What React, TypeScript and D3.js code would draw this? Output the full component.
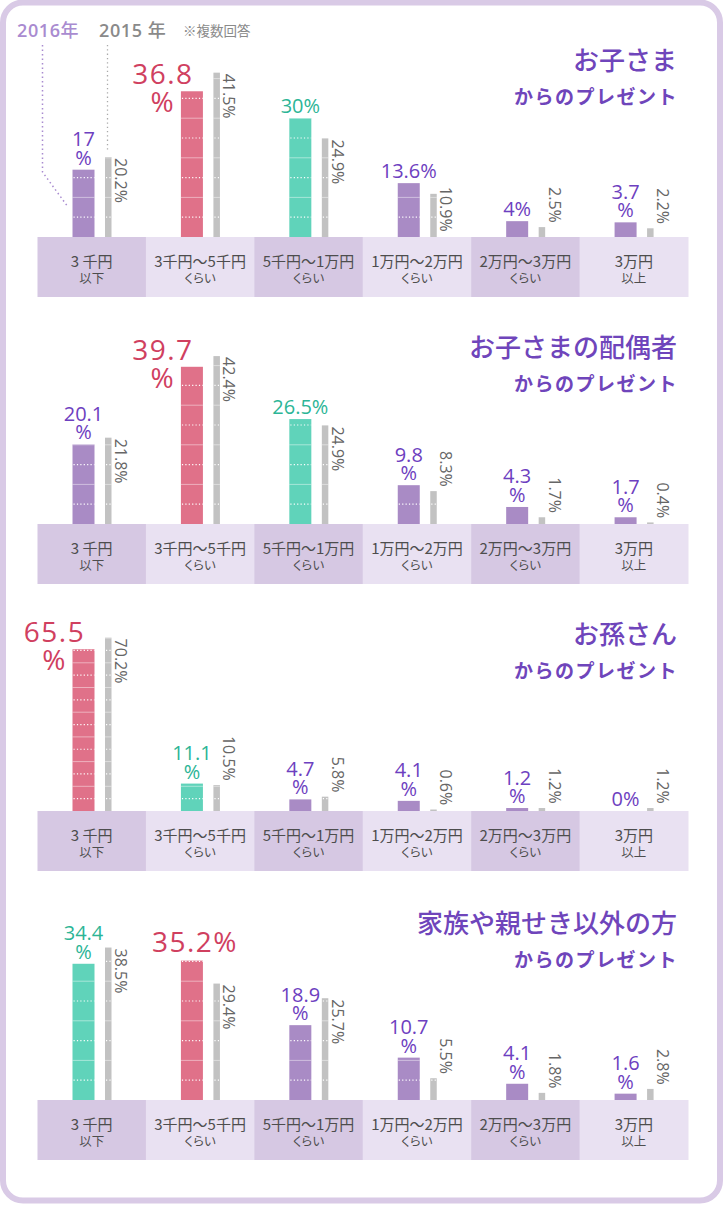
import React from "react";
import * as d3 from "d3";

const CAT_LINE1 = ["3 千円", "3千円～5千円", "5千円～1万円", "1万円～2万円", "2万円～3万円", "3万円"];
const CAT_LINE2 = ["以下", "くらい", "くらい", "くらい", "くらい", "以上"];

const TITLES = ["お子さま", "お子さまの配偶者", "お孫さん", "家族や親せき以外の方"];
const SUBTITLE = "からのプレゼント";

const Y2016_CHILD = [17, 36.8, 30, 13.6, 4, 3.7];
const Y2015_CHILD = [20.2, 41.5, 24.9, 10.9, 2.5, 2.2];
const SPLIT_CHILD = [true, true, false, false, false, true];

const Y2016_SPOUSE = [20.1, 39.7, 26.5, 9.8, 4.3, 1.7];
const Y2015_SPOUSE = [21.8, 42.4, 24.9, 8.3, 1.7, 0.4];
const SPLIT_SPOUSE = [true, true, false, true, true, true];

const Y2016_GRAND = [65.5, 11.1, 4.7, 4.1, 1.2, 0];
const Y2015_GRAND = [70.2, 10.5, 5.8, 0.6, 1.2, 1.2];
const SPLIT_GRAND = [true, true, true, true, true, false];

const Y2016_OTHER = [34.4, 35.2, 18.9, 10.7, 4.1, 1.6];
const Y2015_OTHER = [38.5, 29.4, 25.7, 5.5, 1.8, 2.8];
const SPLIT_OTHER = [true, false, true, true, true, true];

const LEGEND_YEARS = ["2016", "2015 "];
const NOTE = "※複数回答";

const PANELS = [
  { title: TITLES[0], v16: Y2016_CHILD, v15: Y2015_CHILD, split: SPLIT_CHILD },
  { title: TITLES[1], v16: Y2016_SPOUSE, v15: Y2015_SPOUSE, split: SPLIT_SPOUSE },
  { title: TITLES[2], v16: Y2016_GRAND, v15: Y2015_GRAND, split: SPLIT_GRAND },
  { title: TITLES[3], v16: Y2016_OTHER, v15: Y2015_OTHER, split: SPLIT_OTHER },
];

// layout
const W = 727;
const H = 1206;
const BASELINES = [237, 524, 811, 1100];
const PX_PER_PCT = [3.96, 3.96, 2.47, 3.96];
const BAND_H = 60;

const COL = {
  frame: "#d9cae6",
  bandDark: "#d6c8e3",
  bandLight: "#e9e1f2",
  purpleBar: "#a98bc5",
  redBar: "#e07189",
  tealBar: "#60d3ba",
  grayBar: "#c2c2c2",
  purpleText: "#6d40c0",
  redText: "#d0405f",
  tealText: "#2cb596",
  grayText: "#666666",
  title: "#6f45bb",
  catText: "#4d4d4d",
  legend16: "#a98bd0",
  legend15: "#8a8a8a",
};

const NUM_FONT = "'Open Sans', 'Liberation Sans', sans-serif";
const JP_FONT = "'Noto Sans CJK JP', sans-serif";

// approximate advance widths (em)
function textLen(s: string, size: number) {
  let w = 0;
  for (const c of s) {
    if (c === ".") w += 0.268;
    else if (c === "%") w += 0.84;
    else w += 0.572;
  }
  return w * size;
}

const xBand = d3.scaleBand<string>().domain(CAT_LINE1).range([37.5, 688]).padding(0);

function BarGrid({ x, w, y, top, maxV }: { x: number; w: number; y: d3.ScaleLinear<number, number>; top: number; maxV: number }) {
  const ticks = d3.range(5, maxV + 0.001, 5);
  return (
    <g>
      {ticks.map((t) => {
        const yy = y(t);
        if (yy < top - 0.5) return null;
        const odd = Math.round(t / 5) % 2 === 1;
        return odd ? (
          <line key={t} x1={x + 1} x2={x + w} y1={yy} y2={yy} stroke="#fff" strokeWidth={1.2} strokeDasharray="1.2 2.2" />
        ) : (
          <line key={t} x1={x} x2={x + w} y1={yy} y2={yy} stroke="#fff" strokeOpacity={0.45} strokeWidth={1} />
        );
      })}
    </g>
  );
}

function Panel({ idx }: { idx: number }) {
  const p = PANELS[idx];
  const base = BASELINES[idx];
  const y = d3.scaleLinear().domain([0, 100]).range([base, base - 100 * PX_PER_PCT[idx]]);
  const sorted = [...p.v16].sort((a, b) => b - a);
  const bw = xBand.bandwidth();
  return (
    <g>
      {/* title */}
      <text x={677} y={base - 167} textAnchor="end" fontFamily={JP_FONT} fontSize={26} fontWeight={500} fill={COL.title}>
        {p.title}
      </text>
      <text x={678} y={base - 133} textAnchor="end" fontFamily={JP_FONT} fontSize={19} fontWeight={700} fill={COL.title} letterSpacing={1.5}>
        {SUBTITLE}
      </text>
      {/* category band */}
      {CAT_LINE1.map((c, i) => {
        const x0 = xBand(c) as number;
        return (
          <g key={c}>
            <rect x={x0} y={base} width={bw + 0.5} height={BAND_H} fill={i % 2 === 0 ? COL.bandDark : COL.bandLight} />
            <text x={x0 + bw / 2} y={base + 30} textAnchor="middle" fontFamily={JP_FONT} fontSize={15} fill={COL.catText}>
              {c}
            </text>
            <text x={x0 + bw / 2} y={base + 46} textAnchor="middle" fontFamily={JP_FONT} fontSize={12.5} fill={COL.catText} style={{ fontFeatureSettings: "'palt'" }}>
              {CAT_LINE2[i]}
            </text>
          </g>
        );
      })}
      {/* bars */}
      {CAT_LINE1.map((c, i) => {
        const x0 = xBand(c) as number;
        const v16 = p.v16[i];
        const v15 = p.v15[i];
        const rank = sorted.indexOf(v16);
        const barColor = rank === 0 ? COL.redBar : rank === 1 ? COL.tealBar : COL.purpleBar;
        const txtColor = rank === 0 ? COL.redText : rank === 1 ? COL.tealText : COL.purpleText;
        const px = x0 + 35;
        const pw = 22;
        const gx = x0 + 67.5;
        const gw = 6.5;
        const top16 = y(v16);
        const top15 = y(v15);
        const cx = px + pw / 2;
        const label = `${v16}%`;
        const numPart = `${v16}`;
        let labelEl;
        if (rank === 0) {
          if (p.split[i]) {
            const b1 = top16 - 7;
            labelEl = (
              <g fill={txtColor} fontFamily={NUM_FONT} fontSize={28} letterSpacing={1.5} textAnchor="middle">
                <text x={cx - 30 + 1} y={b1}>{numPart}</text>
                <text x={cx - 30 + 1} y={b1 + 28}>%</text>
              </g>
            );
          } else {
            labelEl = (
              <text x={cx + 3} y={top16 - 9} fill={txtColor} fontFamily={NUM_FONT} fontSize={28} letterSpacing={1.5} textAnchor="middle">
                {label}
              </text>
            );
          }
        } else {
          if (p.split[i]) {
            const b2 = top16 - 5;
            labelEl = (
              <g fill={txtColor} fontFamily={NUM_FONT} fontSize={20} textAnchor="middle">
                <text x={cx} y={b2 - 18.5}>{numPart}</text>
                <text x={cx} y={b2}>%</text>
              </g>
            );
          } else {
            labelEl = (
              <text x={cx} y={top16 - 5} fill={txtColor} fontFamily={NUM_FONT} fontSize={20} textAnchor="middle">
                {label}
              </text>
            );
          }
        }
        // 2015 rotated label
        const gl = `${v15}%`;
        const len = textLen(gl, 16);
        const barH = base - top15;
        const gTop = barH >= len - 2.5 ? Math.min(top15 + 1, base - len - 5) : top15 - 4 - len;
        const gxText = gx + gw + 3.5;
        return (
          <g key={c}>
            <rect x={px} y={top16} width={pw} height={base - top16} fill={barColor} />
            <BarGrid x={px} w={pw} y={y} top={top16} maxV={v16} />
            <rect x={gx} y={top15} width={gw} height={base - top15} fill={COL.grayBar} />
            <BarGrid x={gx} w={gw} y={y} top={top15} maxV={v15} />
            {labelEl}
            <text transform={`translate(${gxText},${gTop}) rotate(90)`} fill={COL.grayText} fontFamily={NUM_FONT} fontSize={16}>
              {gl}
            </text>
          </g>
        );
      })}
    </g>
  );
}

export default function App() {
  return (
    <svg width={W} height={H} style={{ position: "absolute", left: 0, top: 0, background: "#fff" }}>
      <rect x={3} y={2.5} width={717} height={1198} rx={20} ry={20} fill="#fff" stroke={COL.frame} strokeWidth={6} />
      {/* legend */}
      <text x={17} y={37} fontFamily={NUM_FONT} fontSize={18} fontWeight={600} letterSpacing={0.6} fill={COL.legend16}>
        {LEGEND_YEARS[0]}<tspan fontFamily={JP_FONT} fontWeight={500}>年</tspan>
      </text>
      <text x={99} y={37} fontFamily={NUM_FONT} fontSize={18} fontWeight={600} letterSpacing={0.6} fill={COL.legend15}>
        {LEGEND_YEARS[1]}<tspan fontFamily={JP_FONT} fontWeight={500}>年</tspan>
      </text>
      <text x={183} y={36} fontFamily={JP_FONT} fontSize={13.5} fill={COL.legend15}>{NOTE}</text>
      <polyline points="42.5,45 42.5,172 68,207" fill="none" stroke={COL.legend16} strokeWidth={1.5} strokeDasharray="1.5 3" />
      <line x1={107.5} y1={45} x2={107.5} y2={151} stroke="#aaa" strokeWidth={1.3} strokeDasharray="1.3 3" />
      {PANELS.map((_, i) => (
        <Panel key={i} idx={i} />
      ))}
    </svg>
  );
}
